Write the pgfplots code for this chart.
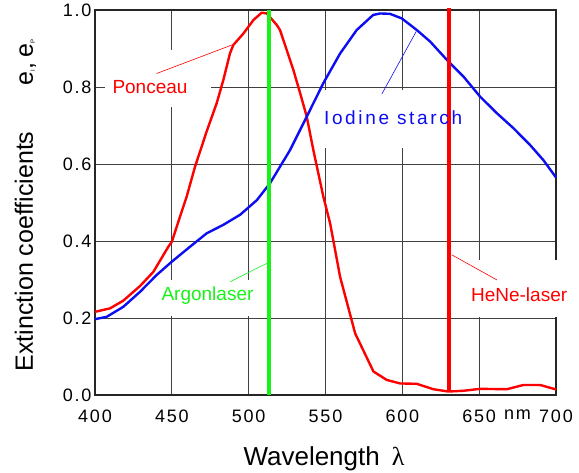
\documentclass[border=0pt]{standalone}
\usepackage{pgfplots}
\pgfplotsset{compat=1.18}
\usepackage{fontspec}
\setmainfont{Liberation Sans}
\newfontfamily\tickfont[LetterSpace=10]{Liberation Sans}
\newfontfamily\widefont[LetterSpace=14]{Liberation Sans}
\newfontfamily\lamfont{Liberation Serif}
\definecolor{pred}{rgb}{1,0,0}
\definecolor{pblue}{rgb}{0.05,0.05,0.95}
\definecolor{pgreen}{rgb}{0.1,0.95,0.1}
\begin{document}
\begin{tikzpicture}
\useasboundingbox (-95pt,-78pt) rectangle (484pt,395pt);
\begin{axis}[
  width=461pt, height=385pt, scale only axis,
  xmin=400, xmax=700, ymin=0, ymax=1,
  xtick={400,450,500,550,600,650,700},
  xticklabels={400,450,500,550,600,650,700},
  extra x ticks={675},
  extra x tick labels={nm},
  extra x tick style={grid=none, major tick length=0pt},
  ytick={0,0.2,0.4,0.6,0.8,1.0},
  yticklabels={0.0,0.2,0.4,0.6,0.8,1.0},
  grid=major, grid style={black!75, line width=0.7pt},
  major tick length=0pt,
  axis line style={black!85, line width=1.3pt},
  ticklabel style={font=\tickfont\fontsize{18}{18}\selectfont},
  /pgf/number format/assume math mode=true,
  xticklabel style={yshift=-11pt},
  clip=false,
]
% white label boxes
\fill[white] (axis cs:406.5,0.748) rectangle (axis cs:475.5,0.896);
\fill[white] (axis cs:546.5,0.642) rectangle (axis cs:644,0.792);
\fill[white] (axis cs:439,0.205) rectangle (axis cs:506,0.299);
\fill[white] (axis cs:638.9,0.203) rectangle (axis cs:706,0.351);

% Ponceau
\addplot[pred, line width=2.4pt, line join=round] coordinates {
(400,0.216)(409.8,0.225)(418.4,0.245)(429.3,0.283)(438,0.320)(447.7,0.385)
(450,0.398)(455.3,0.463)(459.7,0.516)(465.1,0.593)(472.7,0.685)(479.2,0.758)
(483.5,0.818)(487.9,0.888)(490,0.909)(496.6,0.939)(503.1,0.974)(508.5,0.993)
(511.8,0.991)(518.3,0.961)(520.4,0.948)(529.1,0.844)(533.5,0.784)(537.8,0.723)
(542.1,0.636)(548.6,0.515)(553,0.446)(559.5,0.307)(569.3,0.160)(581.2,0.061)
(589.9,0.039)(598.6,0.030)(609.4,0.029)(620.2,0.015)(630,0.009)(639.8,0.011)
(650.6,0.016)(668,0.015)(678.8,0.026)(689.7,0.026)(699.5,0.015)(700,0.014)
};
% Iodine starch
\addplot[pblue, line width=2.4pt, line join=round] coordinates {
(400,0.197)(407.6,0.203)(418.4,0.229)(429.3,0.268)(440.2,0.312)(449.9,0.346)
(461.8,0.385)(472.7,0.420)(483.5,0.442)(494.4,0.468)(505.3,0.506)(513.9,0.550)
(526.9,0.636)(537.8,0.723)(548.6,0.810)(559.5,0.887)(570.3,0.948)(581,0.987)
(585.5,0.991)(592,0.990)(599.7,0.978)(609.4,0.948)(618.1,0.918)(630,0.866)
(639.8,0.827)(650.6,0.775)(661.5,0.732)(672.3,0.693)(683.2,0.649)(691.8,0.610)
(700,0.565)
};
% laser lines
\addplot[pgreen, line width=4pt] coordinates {(513.5,0)(513.5,1.0)};
\addplot[pred, line width=4pt] coordinates {(630.5,0.008)(630.5,1.006)};

% labels and leaders
\node[pred, font=\fontsize{19}{19}\selectfont] at (axis cs:435.8,0.80) {Ponceau};
\draw[pred, line width=0.6pt] (axis cs:440.1,0.835) -- (axis cs:489,0.909);
\node[pblue, font=\widefont\fontsize{19}{19}\selectfont] at (axis cs:594,0.719) {Iodine starch};
\draw[pblue, line width=0.6pt] (axis cs:586.7,0.782) -- (axis cs:609,0.944);
\node[pgreen, font=\fontsize{19}{19}\selectfont] at (axis cs:473.2,0.258) {Argonlaser};
\draw[pgreen, line width=0.6pt] (axis cs:487.9,0.294) -- (axis cs:511.8,0.342);
\node[pred, font=\fontsize{19}{19}\selectfont] at (axis cs:676,0.26) {HeNe-laser};
\draw[pred, line width=0.6pt] (axis cs:632.2,0.364) -- (axis cs:661.5,0.299);

% axis titles
\node[anchor=base, font=\fontsize{26}{26}\selectfont] at (rel axis cs:0.4967,-0.182) {Wavelength\hspace{12pt}{\lamfont λ}};
\node[rotate=90, anchor=base west, font=\fontsize{25}{25}\selectfont] at (rel axis cs:-0.1345,0.052)
  {Extinction coefficients\hspace{46pt}e{\fontsize{6}{6}\selectfont\raisebox{-2pt}{I}},\hspace{6pt}e{\fontsize{6}{6}\selectfont\raisebox{-2pt}{P}}};
\end{axis}
\end{tikzpicture}
\end{document}
